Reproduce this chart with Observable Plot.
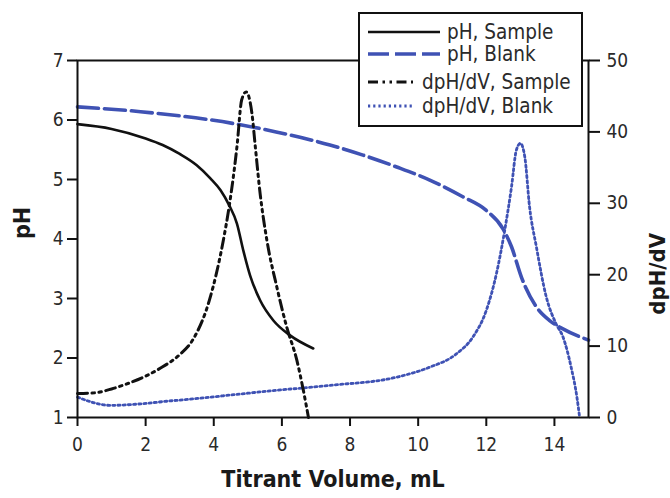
<!DOCTYPE html>
<html><head><meta charset="utf-8">
<script src="https://cdn.jsdelivr.net/npm/d3@7"></script>
<script src="https://cdn.jsdelivr.net/npm/@observablehq/plot@0.6"></script>
<style>
body{margin:0;background:#fff;}
#wrap{position:relative;width:670px;height:498px;font-family:"DejaVu Sans Condensed","DejaVu Sans",sans-serif;font-stretch:condensed;}
#legend{position:absolute;left:358px;top:12px;}
</style></head><body><div id="wrap"></div>
<script>
// ---- data ----
const xTicks = [0, 2, 4, 6, 8, 10, 12, 14];
const phTicks = [1, 2, 3, 4, 5, 6, 7];
const dTicks = [0, 10, 20, 30, 40, 50];

const volPHSample = [0, 1, 2, 2.5, 3, 3.5, 3.9, 4.2, 4.45, 4.68, 4.87, 5.07, 5.36, 5.75, 6.24, 6.92];
const pHSample    = [5.93, 5.85, 5.69, 5.58, 5.43, 5.24, 5.02, 4.82, 4.57, 4.26, 3.80, 3.38, 2.97, 2.63, 2.38, 2.16];

const volPHBlank = [0, 1.85, 4.78, 5.83, 7.41, 8.38, 9.37, 10.34, 11.31, 12.0, 12.48, 12.74, 13.03, 13.47, 13.86, 14.25, 15.0];
const pHBlank    = [6.22, 6.14, 5.92, 5.80, 5.58, 5.41, 5.21, 4.99, 4.71, 4.48, 4.18, 3.87, 3.36, 2.86, 2.63, 2.49, 2.30];

const volDSample = [0, 0.5, 1, 1.5, 2, 2.5, 3, 3.4, 3.87, 4.28, 4.45, 4.68, 4.82, 4.95, 5.12, 5.22, 5.36, 5.56, 5.85, 6.14, 6.44, 6.63, 6.78];
const dSample    = [3.35, 3.45, 4.0, 4.8, 5.8, 7.1, 8.8, 11.0, 16.4, 24.8, 29.5, 37.9, 44.5, 45.6, 42.6, 37.9, 31.4, 24.8, 18.3, 12.7, 8.0, 3.8, 0];

const volDBlank = [0, 0.97, 2.9, 5.83, 7.41, 9.37, 10.34, 11.12, 11.61, 12.0, 12.3, 12.54, 12.74, 12.88, 13.0, 13.13, 13.27, 13.47, 13.76, 14.05, 14.25, 14.49, 14.66, 14.74];
const dBlank    = [2.85, 1.7, 2.4, 3.8, 4.5, 5.65, 7.05, 8.9, 11.3, 15.0, 20.2, 26.2, 32.3, 37.4, 38.4, 36.5, 29.5, 23.9, 16.9, 13.1, 11.3, 7.05, 2.85, 0];

const legendLabels = ["pH, Sample", "pH, Blank", "dpH/dV, Sample", "dpH/dV, Blank"];

// ---- styles ----
const BLUE = "#3f52b4";
const BLACK = "#111";
const FONT = '"DejaVu Sans Condensed","DejaVu Sans",sans-serif';
const styles = [
  {stroke: BLACK, strokeWidth: 2.6, dash: null},
  {stroke: BLUE, strokeWidth: 3.6, dash: "21,6"},
  {stroke: BLACK, strokeWidth: 3, dash: "10,4.5,2.5,4.5,2.5,4.5"},
  {stroke: BLUE, strokeWidth: 2.8, dash: "2.2,3"}
];

// right axis (dpH/dV 0..50) mapped onto left pH scale (1..7)
const toPH = d => 1 + d * 6 / 50;
const fromPH = p => String(Math.round((p - 1) * 50 / 6));

const rows = (xs, ys) => xs.map((x, i) => ({x, y: ys[i]}));
const sPH = rows(volPHSample, pHSample);
const bPH = rows(volPHBlank, pHBlank);
const sD = rows(volDSample, dSample);
const bD = rows(volDBlank, dBlank);

const lineOpts = (st, yAcc) => ({
  x: "x", y: yAcc, stroke: st.stroke, strokeWidth: st.strokeWidth,
  strokeDasharray: st.dash || undefined, curve: "monotone-x", strokeLinejoin: "round"
});

const chart = Plot.plot({
  width: 670, height: 498,
  marginLeft: 77, marginRight: 82, marginTop: 60, marginBottom: 81,
  style: {fontFamily: FONT, fontSize: "19px", color: "#2a2a2a", background: "white", fontStretch: "condensed"},
  x: {domain: [0, 15]},
  y: {domain: [1, 7]},
  marks: [
    Plot.line(bPH, lineOpts(styles[1], "y")),
    Plot.line(bD, lineOpts(styles[3], d => toPH(d.y))),
    Plot.line(sPH, lineOpts(styles[0], "y")),
    Plot.line(sD, lineOpts(styles[2], d => toPH(d.y))),
    Plot.frame({stroke: BLACK, strokeWidth: 2}),
    Plot.axisX({ticks: xTicks, tickFormat: d => String(d), tickSize: 9, tickPadding: 11, strokeWidth: 2, stroke: BLACK, label: null, fontSize: 19}),
    Plot.axisY({ticks: phTicks, tickFormat: d => String(d), anchor: "left", tickSize: 10, tickPadding: 4, strokeWidth: 2, stroke: BLACK, label: null, fontSize: 19}),
    Plot.axisY(dTicks.map(toPH), {anchor: "right", tickFormat: fromPH, tickSize: 11, tickPadding: 7, strokeWidth: 2, stroke: BLACK, label: null, fontSize: 19}),
    Plot.text(["Titrant Volume, mL"], {text: d => d, frameAnchor: "bottom", dy: 69, fontWeight: "bold", fontSize: 23, fill: "#1a1a1a"}),
    Plot.text(["pH"], {text: d => d, frameAnchor: "left", dx: -55, rotate: -90, fontWeight: "bold", fontSize: 23, fill: "#1a1a1a"}),
    Plot.text(["dpH/dV"], {text: d => d, frameAnchor: "right", dx: 69, dy: -6, rotate: -90, fontWeight: "bold", fontSize: 22, fill: "#1a1a1a"})
  ]
});
const wrap = document.getElementById("wrap");
wrap.appendChild(chart);

// ---- legend overlay ----
const lw = 225, lh = 115;
const leg = d3.select(wrap).append("svg").attr("id", "legend")
  .attr("width", lw).attr("height", lh)
  .style("font-family", FONT).style("font-stretch", "condensed");
leg.append("rect").attr("x", 1).attr("y", 1).attr("width", lw - 2).attr("height", lh - 2)
  .attr("fill", "white").attr("stroke", BLACK).attr("stroke-width", 2);
const rowY = [20, 42, 70, 94];
legendLabels.forEach((lab, i) => {
  const st = styles[i];
  const x2 = i < 2 ? 82 : 55;
  const tx = i < 2 ? 89 : 64;
  leg.append("line").attr("x1", 10).attr("x2", x2).attr("y1", rowY[i]).attr("y2", rowY[i])
    .attr("stroke", st.stroke).attr("stroke-width", st.strokeWidth)
    .attr("stroke-dasharray", st.dash);
  leg.append("text").attr("x", tx).attr("y", rowY[i]).attr("dy", "0.35em")
    .attr("font-size", 20.5).attr("fill", "#2a2a2a").text(lab);
});
</script></body></html>
